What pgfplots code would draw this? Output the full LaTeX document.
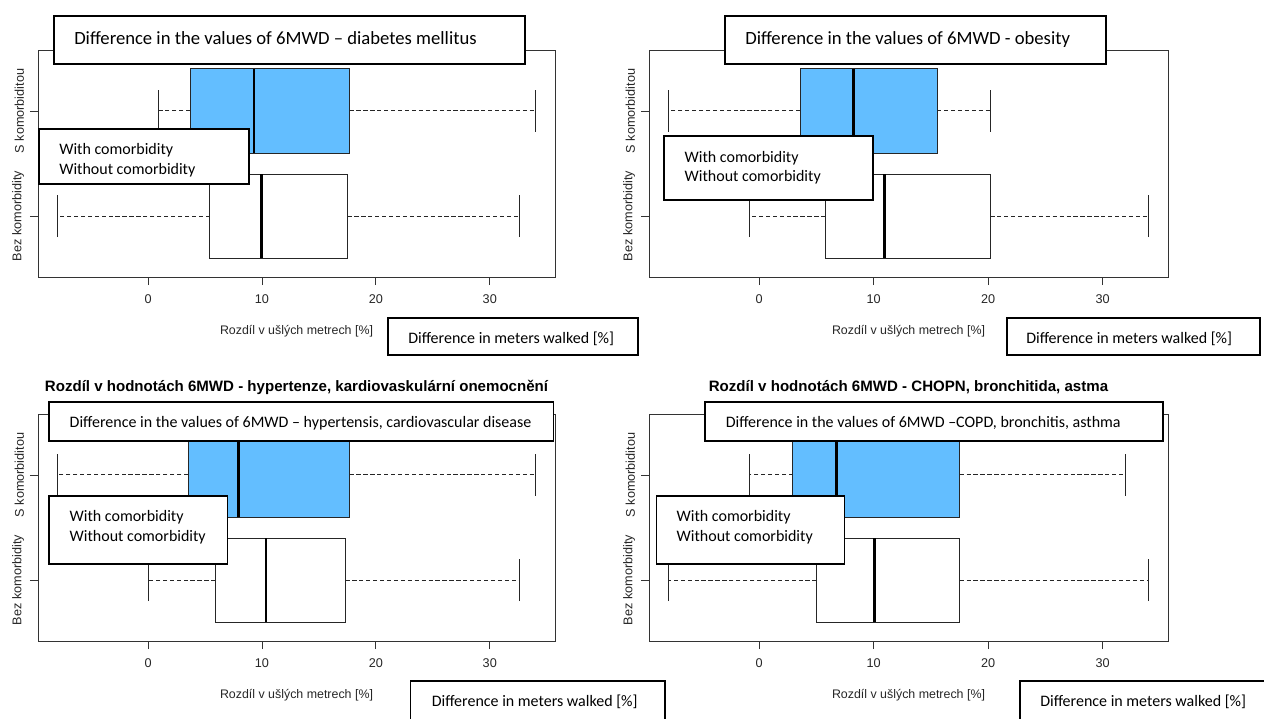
\documentclass[border=0pt]{standalone}
\usepackage{pgfplots}
\pgfplotsset{compat=1.18}
\usepgfplotslibrary{statistics}
\usepackage{fontspec}
\setmainfont{Liberation Sans}
\newfontfamily\calibri{Carlito}
\definecolor{boxblue}{RGB}{99,190,255}

\pgfplotsset{
  rpanel/.style={
    scale only axis, height=170.25pt,
    ymin=0.42, ymax=2.58,
    xtick={0,10,20,30}, ytick={1,2},
    yticklabels={Bez komorbidity, S komorbiditou},
    xtick pos=bottom, ytick pos=left,
    tick align=outside, major tick length=6pt,
    tick style={black!80, line width=0.6pt},
    axis line style={black!80, line width=0.7pt},
    /pgf/number format/assume math mode=true,
    xticklabel style={font=\fontsize{9.5}{11}\selectfont, text=black!85, yshift=-3.5pt},
    yticklabel style={rotate=90, anchor=south, font=\fontsize{9.5}{11}\selectfont, text=black!85, yshift=1pt},
    xlabel={Rozdíl v ušlých metrech [\%]},
    xlabel style={font=\fontsize{9.3}{11}\selectfont, text=black!85, at={(axis description cs:0.5,0)}, anchor=center, yshift=-40.5pt},
    title style={font=\bfseries\fontsize{11.3}{13}\selectfont, at={(axis description cs:0.5,1)}, anchor=base, yshift=11.25pt},
    clip=false,
  },
  rbox/.style={
    draw=black!85, line width=0.7pt,
    boxplot/box extend=0.8,
    boxplot/whisker extend=0.4,
    boxplot/every median/.style={black, line width=2.2pt},
    boxplot/draw/lower whisker/.code={%
      \draw[black!85, line width=0.7pt, dash pattern=on 3.2pt off 2pt]
        (boxplot whisker cs:\pgfplotsboxplotvalue{lower quartile},0.5) --
        (boxplot whisker cs:\pgfplotsboxplotvalue{lower whisker},0.5);
      \draw[black!85, line width=0.7pt]
        (boxplot whisker cs:\pgfplotsboxplotvalue{lower whisker},0) --
        (boxplot whisker cs:\pgfplotsboxplotvalue{lower whisker},1);
    },
    boxplot/draw/upper whisker/.code={%
      \draw[black!85, line width=0.7pt, dash pattern=on 3.2pt off 2pt]
        (boxplot whisker cs:\pgfplotsboxplotvalue{upper quartile},0.5) --
        (boxplot whisker cs:\pgfplotsboxplotvalue{upper whisker},0.5);
      \draw[black!85, line width=0.7pt]
        (boxplot whisker cs:\pgfplotsboxplotvalue{upper whisker},0) --
        (boxplot whisker cs:\pgfplotsboxplotvalue{upper whisker},1);
    },
  },
  bluebox/.style={rbox, boxplot/every box/.style={fill=boxblue}},
  whitebox/.style={rbox, boxplot/every box/.style={fill=white}},
}

\begin{document}
\begin{tikzpicture}
\useasboundingbox (0,0) rectangle (948pt,-538.5pt);

% Panel 1: diabetes mellitus
\begin{axis}[rpanel, at={(28.5pt,-207.75pt)}, anchor=south west, width=387.75pt,
  xmin=-9.67, xmax=35.73, title={Rozdíl v hodnotách 6MWD - diabetes mellitus}]
\addplot[bluebox, boxplot prepared={draw position=2, lower whisker=0.88, lower quartile=3.70, median=9.30, upper quartile=17.68, upper whisker=34.05}] coordinates {};
\addplot[whitebox, boxplot prepared={draw position=1, lower whisker=-7.99, lower quartile=5.42, median=9.93, upper quartile=17.50, upper whisker=32.57}] coordinates {};
\end{axis}

% Panel 2: obesity
\begin{axis}[rpanel, at={(486.75pt,-207.75pt)}, anchor=south west, width=389.25pt,
  xmin=-9.62, xmax=35.70, title={Rozdíl v hodnotách 6MWD - obezita}]
\addplot[bluebox, boxplot prepared={draw position=2, lower whisker=-7.89, lower quartile=3.58, median=8.25, upper quartile=15.54, upper whisker=20.18}] coordinates {};
\addplot[whitebox, boxplot prepared={draw position=1, lower whisker=-0.88, lower quartile=5.79, median=10.95, upper quartile=20.18, upper whisker=33.96}] coordinates {};
\end{axis}

% Panel 3: hypertension
\begin{axis}[rpanel, at={(28.5pt,-480.75pt)}, anchor=south west, width=387.75pt,
  xmin=-9.67, xmax=35.73, title={Rozdíl v hodnotách 6MWD - hypertenze, kardiovaskulární onemocnění}]
\addplot[bluebox, boxplot prepared={draw position=2, lower whisker=-7.99, lower quartile=3.52, median=7.96, upper quartile=17.68, upper whisker=34.05}] coordinates {};
\addplot[whitebox, boxplot prepared={draw position=1, lower whisker=0.00, lower quartile=5.92, median=10.35, upper quartile=17.32, upper whisker=32.57}] coordinates {};
\end{axis}

% Panel 4: COPD
\begin{axis}[rpanel, at={(486.75pt,-480.75pt)}, anchor=south west, width=389.25pt,
  xmin=-9.62, xmax=35.70, title={Rozdíl v hodnotách 6MWD - CHOPN, bronchitida, astma}]
\addplot[bluebox, boxplot prepared={draw position=2, lower whisker=-0.88, lower quartile=2.95, median=6.77, upper quartile=17.50, upper whisker=32.00}] coordinates {};
\addplot[whitebox, boxplot prepared={draw position=1, lower whisker=-7.89, lower quartile=5.02, median=10.10, upper quartile=17.50, upper whisker=33.96}] coordinates {};
\end{axis}

% Overlaid English boxes (pixel coordinates)
\begin{scope}[x=0.75pt,y=-0.75pt, every node/.style={inner sep=0pt, anchor=base west}]
  \tikzset{obox/.style={draw=black, line width=1.3pt, fill=white}}
  % panel 1
  \draw[obox] (54,15.7) rectangle (525,64);
  \node[font=\calibri\fontsize{14}{16}\selectfont] at (74,44.3) {Difference in the values of 6MWD – diabetes mellitus};
  \draw[obox] (38.7,129) rectangle (249,184);
  \node[font=\calibri\fontsize{12}{14}\selectfont] at (59,154.5) {With comorbidity};
  \node[font=\calibri\fontsize{12}{14}\selectfont] at (59,174) {Without comorbidity};
  \draw[obox] (388,318) rectangle (638,355);
  \node[font=\calibri\fontsize{12}{14}\selectfont] at (408,343) {Difference in meters walked [\%]};
  % panel 2
  \draw[obox] (725,15.7) rectangle (1106,64);
  \node[font=\calibri\fontsize{14}{16}\selectfont] at (745,44.3) {Difference in the values of 6MWD - obesity};
  \draw[obox] (664,136) rectangle (873,200);
  \node[font=\calibri\fontsize{12}{14}\selectfont] at (684.4,162) {With comorbidity};
  \node[font=\calibri\fontsize{12}{14}\selectfont] at (684.4,181.7) {Without comorbidity};
  \draw[obox] (1007,318) rectangle (1260,355);
  \node[font=\calibri\fontsize{12}{14}\selectfont] at (1026,343) {Difference in meters walked [\%]};
  % panel 3
  \draw[obox] (49,401.7) rectangle (553.6,441);
  \node[font=\calibri\fontsize{12}{14}\selectfont] at (69.4,427.7) {Difference in the values of 6MWD – hypertensis, cardiovascular disease};
  \draw[obox] (49,495.7) rectangle (227.4,564.3);
  \node[font=\calibri\fontsize{12}{14}\selectfont] at (69.4,521.7) {With comorbidity};
  \node[font=\calibri\fontsize{12}{14}\selectfont] at (69.4,541.7) {Without comorbidity};
  \draw[obox] (410.5,680.7) rectangle (665,730);
  \node[font=\calibri\fontsize{12}{14}\selectfont] at (431.5,706.7) {Difference in meters walked [\%]};
  % panel 4
  \draw[obox] (705,401.7) rectangle (1163,441);
  \node[font=\calibri\fontsize{12}{14}\selectfont] at (725.5,427.7) {Difference in the values of 6MWD –COPD, bronchitis, asthma};
  \draw[obox] (656.6,495.7) rectangle (844.5,564.3);
  \node[font=\calibri\fontsize{12}{14}\selectfont] at (676.4,521.7) {With comorbidity};
  \node[font=\calibri\fontsize{12}{14}\selectfont] at (676.4,541.7) {Without comorbidity};
  \draw[obox] (1020,680.7) rectangle (1290,730);
  \node[font=\calibri\fontsize{12}{14}\selectfont] at (1040,706.7) {Difference in meters walked [\%]};
\end{scope}
\end{tikzpicture}
\end{document}
